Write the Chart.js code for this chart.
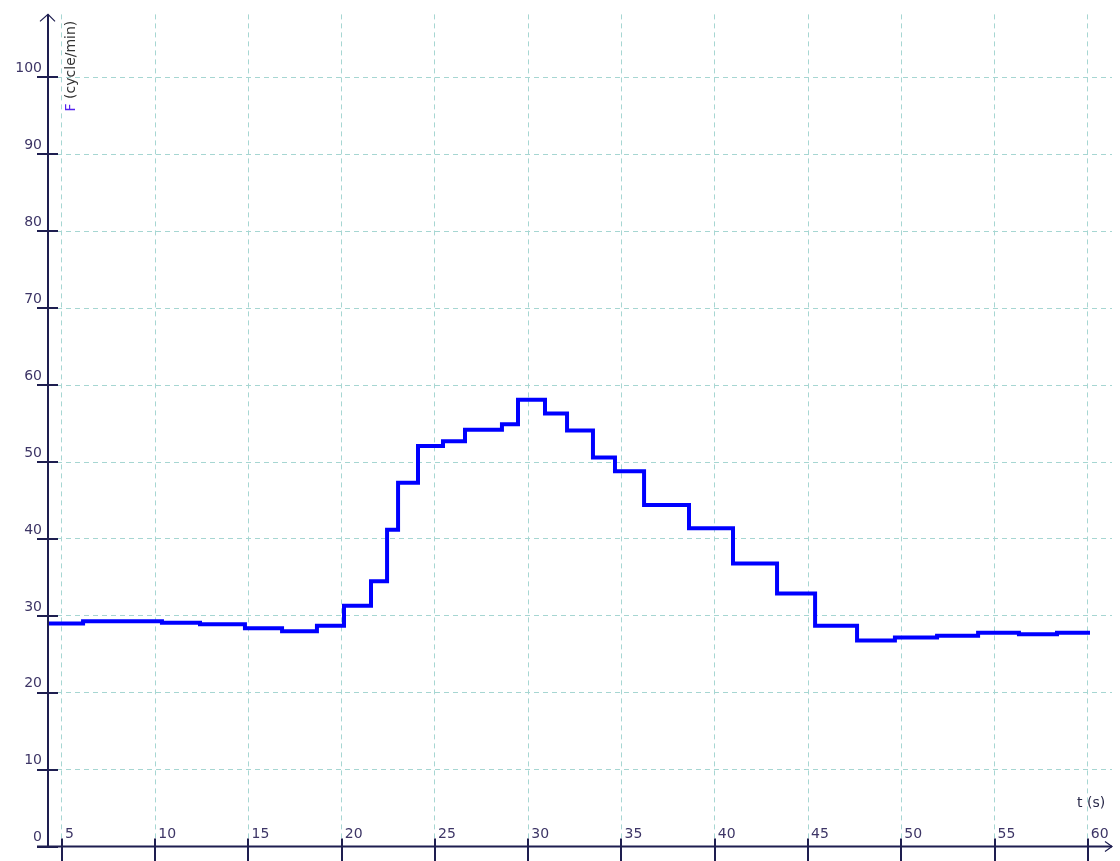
<!DOCTYPE html>
<html>
<head>
<meta charset="utf-8">
<script src="https://cdn.jsdelivr.net/npm/chart.js@4.4.0/dist/chart.umd.min.js"></script>
<style>
  html, body { margin: 0; padding: 0; background: #fff; }
  #wrap { width: 1120px; height: 861px; }
</style>
</head>
<body>
<div id="wrap"><canvas id="freqChart"></canvas></div>
<script>
// step start times (s) and heart rate (cycle/min)
const times = [4.25, 6.13, 10.36, 12.40, 14.81, 16.80, 18.67, 20.12, 21.57, 22.43, 23.02, 24.09,
  25.43, 26.61, 28.59, 29.45, 30.90, 32.08, 33.47, 34.65, 36.21, 38.62, 40.98, 43.34,
  45.38, 47.63, 49.66, 51.92, 54.12, 56.31, 58.35, 60.12];
const rates = [29.0, 29.3, 29.1, 28.9, 28.4, 28.0, 28.7, 31.3, 34.5, 41.2, 47.3, 52.1,
  52.7, 54.2, 54.9, 58.1, 56.3, 54.1, 50.6, 48.8, 44.4, 41.4, 36.8, 32.9,
  28.7, 26.8, 27.2, 27.4, 27.8, 27.6, 27.8, 27.8];
const xTicks = [5, 10, 15, 20, 25, 30, 35, 40, 45, 50, 55, 60];
const yTicks = [0, 10, 20, 30, 40, 50, 60, 70, 80, 90, 100];

const axisInk = '#1e1e50';
const gridInk = '#a6d6d2';

const axesPlugin = {
    id: 'axes',
    afterDraw(chart) {
        const ctx = chart.ctx;
        const area = chart.chartArea;
        const xs = chart.scales.x;
        const ys = chart.scales.y;
        ctx.save();
        ctx.strokeStyle = axisInk;
        ctx.lineWidth = 2;
        // axis lines
        ctx.beginPath();
        ctx.moveTo(area.left, area.top);
        ctx.lineTo(area.left, area.bottom);
        ctx.moveTo(area.left - 11, area.bottom);
        ctx.lineTo(area.right, area.bottom);
        // tick marks
        ys.ticks.forEach(t => {
            const y = Math.round(ys.getPixelForValue(t.value));
            ctx.moveTo(area.left - 11, y);
            ctx.lineTo(area.left + 10, y);
        });
        xs.ticks.forEach(t => {
            const x = Math.round(xs.getPixelForValue(t.value));
            ctx.moveTo(x, area.bottom - 8);
            ctx.lineTo(x, chart.height);
        });
        ctx.stroke();
        // arrows
        ctx.lineWidth = 1.2;
        ctx.beginPath();
        ctx.moveTo(area.left - 8, area.top + 7);
        ctx.lineTo(area.left, area.top);
        ctx.lineTo(area.left + 7, area.top + 7);
        ctx.moveTo(area.right - 7, area.bottom - 5);
        ctx.lineTo(area.right, area.bottom);
        ctx.lineTo(area.right - 7, area.bottom + 5);
        ctx.stroke();
        // axis titles
        ctx.font = '14px "DejaVu Sans"';
        ctx.textBaseline = 'middle';
        ctx.textAlign = 'left';
        ctx.save();
        ctx.translate(area.left + 23, area.top + 97);
        ctx.rotate(-Math.PI / 2);
        ctx.fillStyle = '#5522ee';
        ctx.fillText('F', 0, 0);
        const fw = ctx.measureText('F').width;
        ctx.fillStyle = '#333333';
        ctx.fillText(' (cycle/min)', fw, 0);
        ctx.restore();
        ctx.fillStyle = '#2a2a4a';
        ctx.fillText('t (s)', 1077, 803);
        ctx.restore();
    }
};

new Chart(document.getElementById('freqChart'), {
    type: 'line',
    data: {
        datasets: [{
            data: times.map((t, i) => ({ x: t, y: rates[i] })),
            borderColor: '#0000ff',
            borderWidth: 4,
            stepped: true,
            pointRadius: 0,
            fill: false
        }]
    },
    options: {
        responsive: true,
        maintainAspectRatio: false,
        animation: false,
        layout: { padding: { top: 8, right: 8, left: 0, bottom: 0 } },
        plugins: { legend: { display: false }, tooltip: { enabled: false } },
        scales: {
            x: {
                type: 'linear',
                min: 4.25,
                max: 61.3,
                afterBuildTicks: s => { s.ticks = xTicks.map(v => ({ value: v })); },
                afterFit: s => { s.height = 11; },
                grid: { color: gridInk, lineWidth: 1, drawTicks: false },
                border: { display: false, dash: [5, 4] },
                ticks: {
                    mirror: true,
                    align: 'start',
                    labelOffset: 3,
                    padding: 4,
                    maxRotation: 0,
                    autoSkip: false,
                    color: '#3d3566',
                    font: { family: 'DejaVu Sans', size: 14 }
                }
            },
            y: {
                min: 0,
                max: 108.2,
                afterBuildTicks: s => { s.ticks = yTicks.map(v => ({ value: v })); },
                afterFit: s => { s.width = 48; },
                grid: { color: gridInk, lineWidth: 1, drawTicks: false },
                border: { display: false, dash: [5, 4] },
                ticks: {
                    labelOffset: -9,
                    padding: 6,
                    autoSkip: false,
                    color: '#3d3566',
                    font: { family: 'DejaVu Sans', size: 14 }
                }
            }
        }
    },
    plugins: [axesPlugin]
});
</script>
</body>
</html>
